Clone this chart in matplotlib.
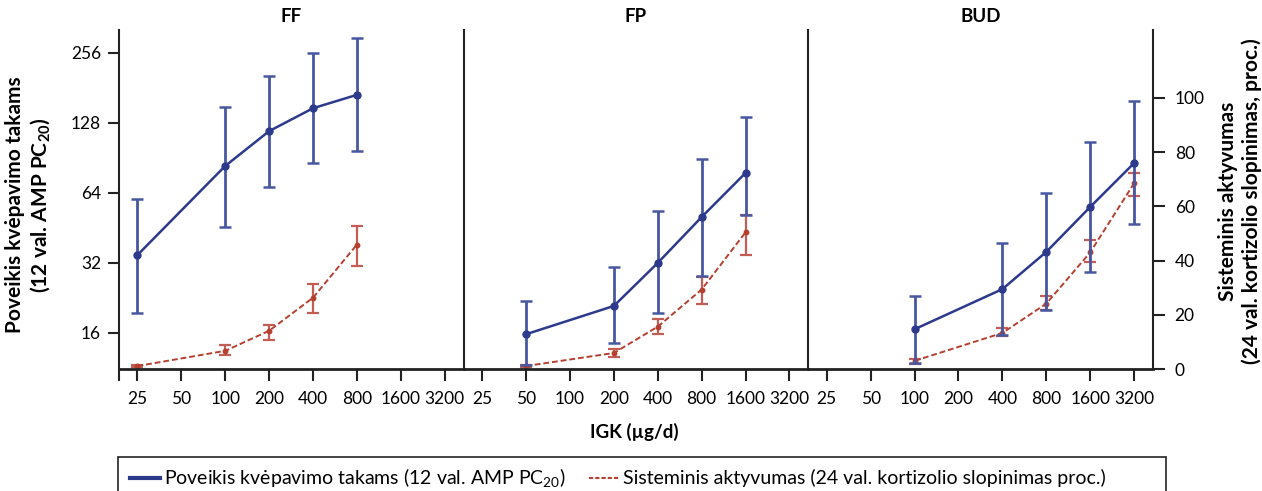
import matplotlib
matplotlib.use("Agg")
import matplotlib.pyplot as plt
from matplotlib.ticker import FixedLocator, NullLocator, NullFormatter
from matplotlib.patches import Rectangle
from matplotlib.lines import Line2D

plt.rcParams['font.family'] = ['Lato', 'DejaVu Sans']
plt.rcParams['mathtext.fontset'] = 'custom'
plt.rcParams['mathtext.rm'] = 'Lato'
plt.rcParams['mathtext.bf'] = 'Lato:bold'

# x axis (same for every panel)
doses = [25, 50, 100, 200, 400, 800, 1600, 3200]
dose_labels = [str(d) for d in doses]
panel_names = ["FF", "FP", "BUD"]

# FF
ff_x = [25, 100, 200, 400, 800]
ff_pc20 = [34.6, 83.6, 118, 148, 169]
ff_pc20_lo = [19.5, 45.7, 67.9, 86, 97]
ff_pc20_hi = [60.3, 150, 204, 256, 297]
ff_cort = [1.1, 6.7, 14.1, 26.3, 45.9]
ff_cort_lo = [0.6, 5.2, 10.7, 20.7, 37.8]
ff_cort_hi = [1.6, 8.9, 16.3, 31.5, 52.6]

# FP
fp_x = [50, 200, 400, 800, 1600]
fp_pc20 = [15.8, 20.9, 32, 50.4, 78]
fp_pc20_lo = [11.7, 14.5, 19.5, 28.1, 51.5]
fp_pc20_hi = [22.0, 30.7, 53.6, 89.6, 136]
fp_cort = [1.1, 5.9, 15.6, 29.3, 50.4]
fp_cort_lo = [0.6, 4.4, 13, 24, 42.2]
fp_cort_hi = [1.6, 7.4, 18.5, 34, 56.7]

# BUD
bud_x = [100, 400, 800, 1600, 3200]
bud_pc20 = [16.6, 24.7, 35.7, 55.7, 86]
bud_pc20_lo = [11.9, 15.7, 20.1, 29.3, 47]
bud_pc20_hi = [23.1, 39, 64, 106, 159]
bud_cort = [3.0, 13.3, 24.1, 43, 68.5]
bud_cort_lo = [1.9, 12.2, 21.8, 39.3, 63.7]
bud_cort_hi = [3.7, 15.2, 27, 47.4, 72.2]

pc20_ticks = [16, 32, 64, 128, 256]
cort_ticks = [0, 20, 40, 60, 80, 100]

data = [
    (ff_x, ff_pc20, ff_pc20_lo, ff_pc20_hi, ff_cort, ff_cort_lo, ff_cort_hi),
    (fp_x, fp_pc20, fp_pc20_lo, fp_pc20_hi, fp_cort, fp_cort_lo, fp_cort_hi),
    (bud_x, bud_pc20, bud_pc20_lo, bud_pc20_hi, bud_cort, bud_cort_lo, bud_cort_hi),
]

BLUE = "#2d3a8c"
BLUE_ERR = "#4757a0"
RED = "#b5402f"
RED_ERR = "#c25e55"
INK = "#222222"

W, H = 1262, 491
fig = plt.figure(figsize=(W / 100, H / 100), dpi=100)

L, R, B, T = 119 / W, 1153 / W, 1 - 369 / H, 1 - 30 / H
pw = (R - L) / 3
xlo, xhi = 25 * 2 ** -0.42, 25 * 2 ** 7.43

for i, (x, p, plo, phi, c, clo, chi) in enumerate(data):
    ax = fig.add_axes([L + i * pw, B, pw, T - B])
    ax.set_xscale('log', base=2)
    ax.set_yscale('log', base=2)
    ax.set_xlim(xlo, xhi)
    ax.set_ylim(11.2, 321)
    ax.xaxis.set_major_locator(FixedLocator(doses))
    ax.set_xticklabels(dose_labels)
    ax.xaxis.set_minor_locator(NullLocator())
    ax.yaxis.set_minor_locator(NullLocator())
    ax.tick_params(axis='x', direction='out', length=8.6, width=1.5,
                   labelsize=12.5, pad=7, color=INK)
    if i == 0:
        ax.yaxis.set_major_locator(FixedLocator(pc20_ticks))
        ax.set_yticklabels([str(v) for v in pc20_ticks])
        ax.tick_params(axis='y', direction='out', length=8, width=1.5,
                       labelsize=12.5, pad=5, color=INK)
        # small stub under the left spine
        ax.xaxis.set_minor_locator(FixedLocator([xlo]))
        ax.xaxis.set_minor_formatter(NullFormatter())
        ax.tick_params(axis='x', which='minor', length=8.6, width=1.5, color=INK)
    else:
        ax.yaxis.set_major_locator(NullLocator())
        ax.tick_params(axis='y', left=False, labelleft=False)
    ax.spines['top'].set_visible(False)
    ax.spines['right'].set_visible(False)
    ax.spines['left'].set_linewidth(1.5)
    ax.spines['bottom'].set_linewidth(2)
    ax.spines['left'].set_color(INK)
    ax.spines['bottom'].set_color(INK)

    ax2 = ax.twinx()
    ax2.set_ylim(0, 125)
    for s in ['top', 'left', 'bottom']:
        ax2.spines[s].set_visible(False)
    if i == 2:
        ax2.yaxis.set_major_locator(FixedLocator(cort_ticks))
        ax2.set_yticklabels([str(v) for v in cort_ticks])
        ax2.tick_params(axis='y', direction='out', length=8.6, width=1.5,
                        labelsize=12.5, pad=7, color=INK)
        ax2.spines['right'].set_linewidth(1.5)
        ax2.spines['right'].set_color(INK)
    else:
        ax2.spines['right'].set_visible(False)
        ax2.yaxis.set_major_locator(NullLocator())
        ax2.tick_params(axis='y', right=False, labelright=False)

    # cortisol suppression (right axis)
    c_err = [[v - lo for v, lo in zip(c, clo)], [hi - v for v, hi in zip(c, chi)]]
    ax2.errorbar(x, c, yerr=c_err, fmt='none', ecolor=RED_ERR, elinewidth=1.6,
                 capsize=4.5, capthick=1.6, zorder=2)
    ax2.plot(x, c, linestyle=(0, (3, 1.5)), color=RED, lw=1.4, marker='o',
             ms=3.2, zorder=3)

    # airway effect (left axis), drawn on top
    ax.set_zorder(ax2.get_zorder() + 1)
    ax.patch.set_visible(False)
    p_err = [[v - lo for v, lo in zip(p, plo)], [hi - v for v, hi in zip(p, phi)]]
    ax.errorbar(x, p, yerr=p_err, fmt='none', ecolor=BLUE_ERR, elinewidth=2,
                capsize=4.5, capthick=1.8, zorder=2)
    ax.plot(x, p, '-o', color=BLUE, lw=1.8, ms=5, zorder=3)

    fig.text(L + (i + 0.5) * pw, 1 - 16 / H, panel_names[i], ha='center',
             va='center', fontsize=13.5, fontweight='bold')

fig.text(634 / W, 1 - 432 / H, "IGK (µg/d)", ha='center', va='center',
         fontsize=13.5, fontweight='bold')
fig.text(29 / W, 1 - 205 / H,
         "Poveikis kvėpavimo takams\n(12 val. AMP PC$_{\\mathbf{20}}$)",
         rotation=90, ha='center', va='center', multialignment='center',
         fontsize=15, fontweight='bold', linespacing=1.2)
fig.text(1240 / W, 1 - 201 / H,
         "Sisteminis aktyvumas\n(24 val. kortizolio slopinimas, proc.)",
         rotation=90, ha='center', va='center', multialignment='center',
         fontsize=15, fontweight='bold', linespacing=1.2)

# legend box (bottom runs off the figure edge)
fig.add_artist(Rectangle((118 / W, 1 - 520 / H), (1166 - 118) / W, (520 - 457) / H,
                         transform=fig.transFigure, fill=False,
                         edgecolor=INK, lw=1.2))
handles = [Line2D([], [], color=BLUE, lw=3),
           Line2D([], [], color=RED, lw=1.5, linestyle=(0, (2, 1)))]
labels = ["Poveikis kvėpavimo takams (12 val. AMP PC$_{20}$)",
          "Sisteminis aktyvumas (24 val. kortizolio slopinimas proc.)"]
fig.legend(handles, labels, loc='center left',
           bbox_to_anchor=(130 / W, 1 - 478 / H), ncol=2, frameon=False,
           fontsize=14, handlelength=1.55, handletextpad=0.2,
           columnspacing=1.2, borderpad=0, borderaxespad=0)

fig.savefig("out.png", dpi=100)
